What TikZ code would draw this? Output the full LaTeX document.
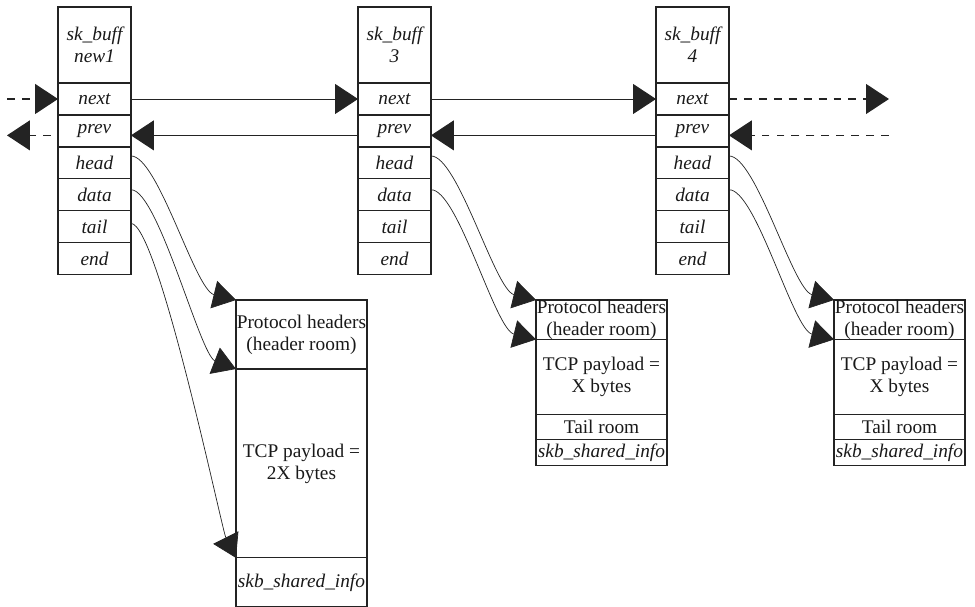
\documentclass[tikz,border=0pt]{standalone}
\usepackage{fontspec}
\setmainfont{Liberation Serif}
\usetikzlibrary{positioning,arrows.meta}
\newcommand\dgmfont{\fontsize{11}{12.5}\selectfont}
\tikzset{
	fld/.style={draw=boxline, line width=0.6pt, rectangle, inner sep=0pt, outer sep=0pt, minimum width=1.46cm, minimum height=0.64cm, font=\dgmfont\itshape, text=txt},
	skbhdr/.style={fld, minimum height=1.52cm, align=center},
	mem/.style={draw=boxline, line width=0.6pt, rectangle, inner sep=0pt, outer sep=0pt, minimum width=2.62cm, align=center, font=\dgmfont, text=txt},
	link/.style={draw=boxline, line width=0.5pt, -{Triangle[length=13pt,width=17pt]}},
	ptr/.style={draw=boxline, line width=0.4pt, -{Triangle[length=13pt,width=16pt]}},
	dlink/.style={link, line width=0.6pt, dash pattern=on 4.5pt off 4pt}
}
\begin{document}
\begin{tikzpicture}[x=0.02cm,y=-0.02cm]
\definecolor{boxline}{RGB}{35,35,35}
\definecolor{txt}{RGB}{25,25,25}
	\useasboundingbox (0,0) rectangle (975,606);
	\foreach \s/\x/\name in {a/58/new1, b/358/3, c/656/4}{
		\node[skbhdr, anchor=north west] (\s-hdr) at (\x,7) {sk\_buff\\\name};
		\node[fld, below=0pt of \s-hdr] (\s-next) {next};
		\node[fld, below=0pt of \s-next] (\s-prev) {prev};
		\node[fld, below=0pt of \s-prev] (\s-head) {head};
		\node[fld, below=0pt of \s-head] (\s-data) {data};
		\node[fld, below=0pt of \s-data] (\s-tail) {tail};
		\node[fld, below=0pt of \s-tail] (\s-end) {end};
	}
	\node[mem, minimum height=1.38cm, anchor=north west] (ma-hdr) at (236,300) {Protocol headers\\(header room)};
	\node[mem, minimum height=3.78cm, below=0pt of ma-hdr] (ma-pay) {TCP payload =\\2X bytes};
	\node[mem, minimum height=0.98cm, below=0pt of ma-pay, font=\dgmfont\itshape] (ma-shinfo) {skb\_shared\_info};
	\foreach \s/\x in {b/536, c/834}{
		\node[mem, minimum height=0.74cm, anchor=north west] (m\s-hdr) at (\x,300) {Protocol headers\\(header room)};
		\node[mem, minimum height=1.5cm, below=0pt of m\s-hdr] (m\s-pay) {TCP payload =\\X bytes};
		\node[mem, minimum height=0.5cm, below=0pt of m\s-pay] (m\s-tail) {Tail room};
		\node[mem, minimum height=0.52cm, below=0pt of m\s-tail, font=\dgmfont\itshape] (m\s-shinfo) {skb\_shared\_info};
	}
	\coordinate (in-next) at ([xshift=-1.02cm]a-next.west);
	\coordinate (out-prev) at ([xshift=-1.02cm,yshift=-2.5pt]a-prev.west);
	\coordinate (out-next) at ([xshift=3.2cm]c-next.east);
	\coordinate (in-prev) at ([xshift=3.2cm,yshift=-2.5pt]c-prev.east);
	\draw[dlink] (in-next) -- (a-next.west);
	\draw[dlink, dash phase=4.5pt] ([yshift=-2.5pt]a-prev.west) -- (out-prev);
	\draw[link] (a-next.east) -- (b-next.west);
	\draw[link] (b-next.east) -- (c-next.west);
	\draw[link] ([yshift=-2.5pt]b-prev.west) -- ([yshift=-2.5pt]a-prev.east);
	\draw[link] ([yshift=-2.5pt]c-prev.west) -- ([yshift=-2.5pt]b-prev.east);
	\draw[dlink] (c-next.east) -- (out-next);
	\draw[dlink] (in-prev) -- ([yshift=-2.5pt]c-prev.east);
	\draw[ptr] ([yshift=4pt]a-head.east) .. controls +(27,0) and +(-41,-10) .. (ma-hdr.north west);
	\draw[ptr] ([yshift=3pt]a-data.east) .. controls +(27,0) and +(-36,-14) .. (ma-pay.north west);
	\draw[ptr] ([yshift=2pt]a-tail.east) .. controls +(27,0) and +(-14,-28) .. (ma-shinfo.north west);
	\draw[ptr] ([yshift=4pt]b-head.east) .. controls +(27,0) and +(-41,-10) .. (mb-hdr.north west);
	\draw[ptr] ([yshift=3pt]b-data.east) .. controls +(27,0) and +(-41,-10) .. (mb-pay.north west);
	\draw[ptr] ([yshift=4pt]c-head.east) .. controls +(27,0) and +(-41,-10) .. (mc-hdr.north west);
	\draw[ptr] ([yshift=3pt]c-data.east) .. controls +(27,0) and +(-41,-10) .. (mc-pay.north west);
\end{tikzpicture}
\end{document}
